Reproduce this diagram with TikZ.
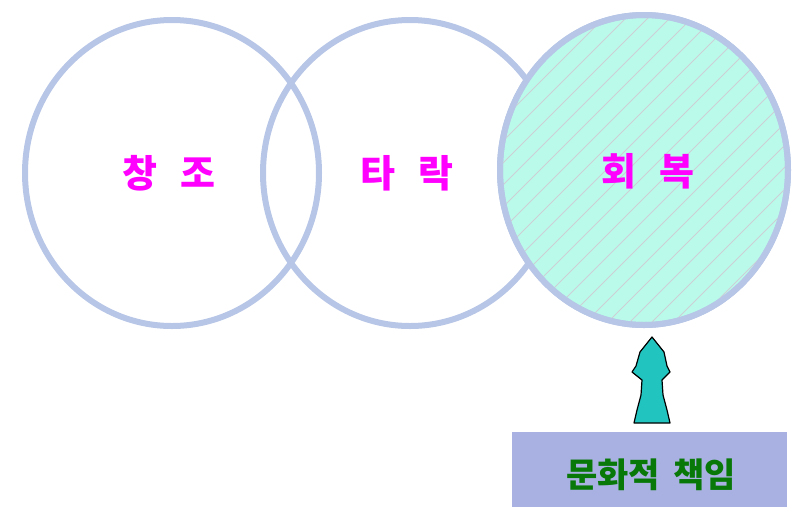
\documentclass[tikz,border=0pt]{standalone}
\usepackage{fontspec}
\newfontfamily\kr{Noto Sans CJK KR}
\usetikzlibrary{shapes.geometric}
\definecolor{ring}{HTML}{B7C6E6}
\definecolor{mint}{HTML}{BAFAEA}
\definecolor{hatch}{HTML}{CCCFD6}
\definecolor{mag}{HTML}{FF00FF}
\definecolor{boxfill}{HTML}{A9B1E2}
\definecolor{dgreen}{HTML}{087808}
\definecolor{teal}{HTML}{22C4C0}
\begin{document}
\begin{tikzpicture}[x=1pt,y=-1pt,
  ringc/.style={ellipse,draw=ring,line width=6pt,minimum width=294pt,minimum height=306pt,inner sep=0pt},
  lbl/.style={font=\kr\bfseries\fontsize{38}{38}\selectfont,text=mag},
  btext/.style={font=\kr\bfseries\fontsize{34}{34}\selectfont,text=dgreen}]
\useasboundingbox (0,0) rectangle (793,507);
\node[ringc] (c1) at (172,173) {};
\node[ringc] (c2) at (410,173) {};
\node[ringc,fill=mint,minimum width=288pt,minimum height=310pt] (c3) at (644,170) {};
\begin{scope}
\clip (644,170) ellipse [x radius=141pt,y radius=152pt];
\foreach \i in {-320,-298,...,320}
  \draw[hatch,line width=0.8pt] (480+\i,330) -- (800+\i,10);
\end{scope}
\node[ringc,minimum width=288pt,minimum height=310pt] at (644,170) {};
\node[lbl] (t1) at (169,173) {창\hspace{0.6em}조};
\node[lbl] (t2) at (407,173) {타\hspace{0.6em}락};
\node[lbl] (t3) at (648,171) {회\hspace{0.6em}복};
\node[fill=boxfill,minimum width=275pt,minimum height=75pt,anchor=north west,inner sep=0pt] (box) at (512,432) {};
\node[btext] (bt) at (651,475) {문화적\hspace{0.4em}책임};
\draw[black,line width=1.2pt,fill=teal,line join=round]
  (652,337) -- (664,352) -- (667,366) -- (670,372) -- (662,380) -- (663,395)
  -- (667,410) -- (670,423) -- (634,423) -- (637,410) -- (641,395) -- (642,380)
  -- (632,372) -- (636,366) -- (640,352) -- cycle;
\end{tikzpicture}
\end{document}
